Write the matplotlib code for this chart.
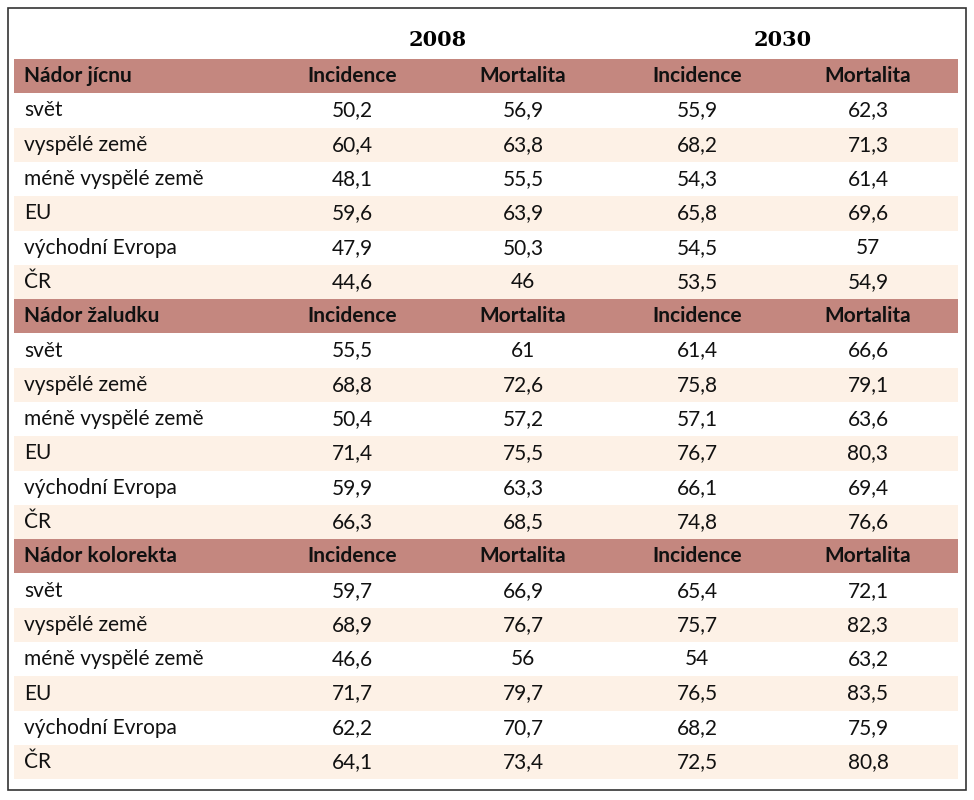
import matplotlib.pyplot as plt
from matplotlib.patches import Rectangle

sections = ["Nádor jícnu", "Nádor žaludku", "Nádor kolorekta"]
regions = ["svět", "vyspělé země", "méně vyspělé země", "EU", "východní Evropa", "ČR"]
years = ["2008", "2030"]
measures = ["Incidence", "Mortalita", "Incidence", "Mortalita"]

values = [
    [["50,2", "56,9", "55,9", "62,3"],
     ["60,4", "63,8", "68,2", "71,3"],
     ["48,1", "55,5", "54,3", "61,4"],
     ["59,6", "63,9", "65,8", "69,6"],
     ["47,9", "50,3", "54,5", "57"],
     ["44,6", "46", "53,5", "54,9"]],
    [["55,5", "61", "61,4", "66,6"],
     ["68,8", "72,6", "75,8", "79,1"],
     ["50,4", "57,2", "57,1", "63,6"],
     ["71,4", "75,5", "76,7", "80,3"],
     ["59,9", "63,3", "66,1", "69,4"],
     ["66,3", "68,5", "74,8", "76,6"]],
    [["59,7", "66,9", "65,4", "72,1"],
     ["68,9", "76,7", "75,7", "82,3"],
     ["46,6", "56", "54", "63,2"],
     ["71,7", "79,7", "76,5", "83,5"],
     ["62,2", "70,7", "68,2", "75,9"],
     ["64,1", "73,4", "72,5", "80,8"]],
]

band = "#c4877f"
cream = "#fdf1e6"
font = "Lato"

fig = plt.figure(figsize=(9.74, 8), dpi=100)
ax = fig.add_axes([0, 0, 1, 1])
ax.set_xlim(0, 974)
ax.set_ylim(800, 0)
ax.axis("off")

ax.add_patch(Rectangle((8, 8), 958, 782, fill=False, edgecolor="#333333", lw=1.2))

col_x = [352, 523, 697, 868]
for i, y in enumerate(years):
    ax.text((col_x[2 * i] + col_x[2 * i + 1]) / 2, 40, y, ha="center", va="center",
            fontsize=15, fontweight="bold", family="DejaVu Serif")

row_h = 34.3
top = 59
x0, x1 = 14, 958
for s, name in enumerate(sections):
    y = top + s * 7 * row_h
    ax.add_patch(Rectangle((x0, y), x1 - x0, row_h, color=band, lw=0))
    ax.text(24, y + row_h / 2, name, ha="left", va="center", fontsize=15,
            fontweight="bold", family=font, color="#111111")
    for c, m in enumerate(measures):
        ax.text(col_x[c], y + row_h / 2, m, ha="center", va="center", fontsize=15,
                fontweight="bold", family=font, color="#111111")
    for r, reg in enumerate(regions):
        yr = y + (r + 1) * row_h
        if r % 2 == 1:
            ax.add_patch(Rectangle((x0, yr), x1 - x0, row_h, color=cream, lw=0))
        ax.text(24, yr + row_h / 2, reg, ha="left", va="center", fontsize=15,
                family=font, color="#111111")
        for c, v in enumerate(values[s][r]):
            ax.text(col_x[c], yr + row_h / 2, v, ha="center", va="center",
                    fontsize=15, family=font, color="#111111")

fig.savefig("out.png", dpi=100)
